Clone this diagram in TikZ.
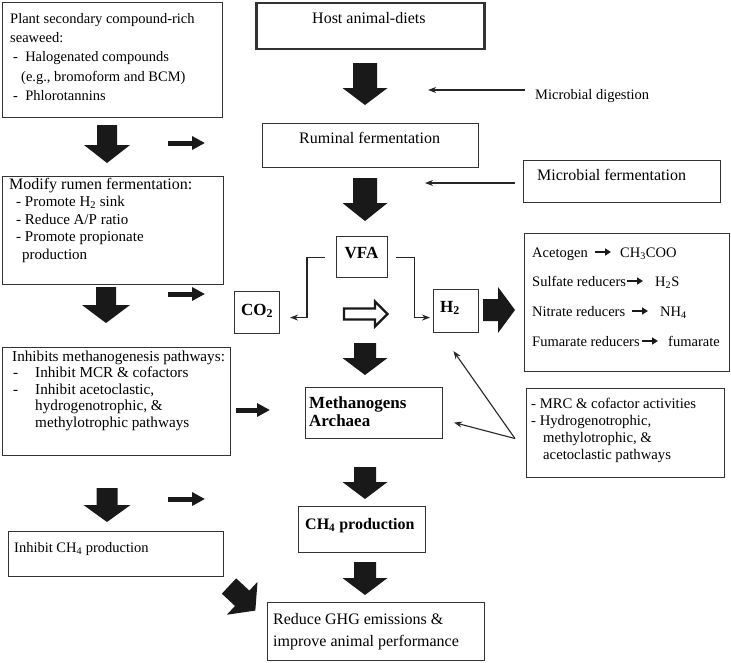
\documentclass[tikz,border=0pt]{standalone}
\usepackage{fontspec}
\setmainfont{Liberation Serif}
\usetikzlibrary{arrows.meta}
\newcommand{\blkarrow}[7]{% tail x, tail y, rotation, length, shaft half, head half, head length
  \begin{scope}[shift={(#1,#2)}, rotate=#3]
    \fill[black!90] (0,-#5) -- ({#4-#7},-#5) -- ({#4-#7},-#6) -- (#4,0) -- ({#4-#7},#6) -- ({#4-#7},#5) -- (0,#5) -- cycle;
  \end{scope}}
\begin{document}
\begin{tikzpicture}[x=1pt,y=-1pt,
  box/.style={draw=black!80, line width=1.1pt, inner sep=0pt, anchor=north west},
  ltxt/.style={anchor=north west, inner sep=0pt, align=left, font=\fontsize{15}{18}\selectfont},
  ctxt/.style={anchor=base west, inner sep=0pt, font=\fontsize{16}{20}\selectfont},
  rtxt/.style={anchor=base west, inner sep=0pt, font=\fontsize{14.5}{17}\selectfont},
  btxt/.style={anchor=base west, inner sep=0pt, font=\fontsize{17}{18}\selectfont\bfseries},
  conn/.style={draw=black!85, line width=1.1pt, -{Stealth[length=8pt,width=6pt]}},
  smallarr/.style={draw=black!90, line width=5pt, -{Triangle[length=13pt,width=13pt]}},
  inarr/.style={draw=black!90, line width=2pt, -{Triangle[length=6pt,width=7pt]}}
]
\useasboundingbox (0,0) rectangle (731,662);

% ---------- boxes ----------
\node[box, minimum width=220pt, minimum height=115pt] (plant) at (2,2) {};
\node[box, line width=2.5pt, minimum width=228pt, minimum height=46pt] (host) at (255,1.5) {};
\node[box, minimum width=216pt, minimum height=44pt] (rum) at (262,123) {};
\node[box, minimum width=197pt, minimum height=42pt] (mferm) at (523,160) {};
\node[box, minimum width=221pt, minimum height=108pt] (modify) at (2,176) {};
\node[box, minimum width=51pt, minimum height=41pt] (vfa) at (336,236) {};
\node[box, minimum width=45pt, minimum height=42pt] (co2) at (234,291) {};
\node[box, minimum width=45pt, minimum height=43pt] (h2) at (433,289) {};
\node[box, minimum width=205pt, minimum height=138pt] (sinks) at (524,233) {};
\node[box, minimum width=228pt, minimum height=108pt] (inhib) at (2,347) {};
\node[box, minimum width=137pt, minimum height=51pt] (meth) at (305,387) {};
\node[box, minimum width=198pt, minimum height=89pt] (mrc) at (526,388) {};
\node[box, minimum width=127pt, minimum height=46pt] (ch4) at (298,506) {};
\node[box, minimum width=215pt, minimum height=45pt] (inhch4) at (8,531) {};
\node[box, minimum width=217pt, minimum height=58pt] (ghg) at (267,602) {};

% ---------- texts ----------
\node[ltxt, font=\fontsize{14.5}{19.3}\selectfont] (plantT) at (10,9.5) {\strut Plant secondary compound-rich\\
seaweed:\\
\hspace*{3pt}- \ Halogenated compounds\\
\hspace*{11pt}(e.g., bromoform and BCM)\\
\hspace*{3pt}- \ Phlorotannins};

\node[ltxt, font=\fontsize{15}{17.5}\selectfont] (modT) at (9,176.8) {\strut{\fontsize{16}{17.5}\selectfont Modify rumen fermentation:}\\
\hspace*{7pt}- Promote H\textsubscript{2} sink\\
\hspace*{7pt}- Reduce A/P ratio\\
\hspace*{7pt}- Promote propionate\\
\hspace*{13pt}production};

\node[ltxt, font=\fontsize{15.2}{16.5}\selectfont] (inhT) at (12,349.5) {\strut Inhibits methanogenesis pathways:\\
\makebox[23pt][l]{\hspace*{1pt}-}Inhibit MCR \& cofactors\\
\makebox[23pt][l]{\hspace*{1pt}-}Inhibit acetoclastic,\\
\hspace*{23pt}hydrogenotrophic, \&\\
\hspace*{23pt}methylotrophic pathways};

\node[ltxt, font=\fontsize{14.7}{17}\selectfont] (mrcT) at (531,396.1) {\strut - MRC \& cofactor activities\\
- Hydrogenotrophic,\\
\hspace*{12pt}methylotrophic, \&\\
\hspace*{12pt}acetoclastic pathways};

\node[ctxt] (hostT) at (312,23) {Host animal-diets};
\node[ctxt] (rumT) at (299,143) {Ruminal fermentation};
\node[rtxt] (mdigT) at (535,99) {Microbial digestion};
\node[rtxt, font=\fontsize{16}{17}\selectfont] (mfermT) at (537,180) {Microbial fermentation};
\node[btxt, anchor=base] (vfaT) at (361.5,258) {VFA};
\node[btxt, anchor=base] (co2T) at (257,315) {CO\textsubscript{2}};
\node[btxt] (h2T) at (440,312) {H\textsubscript{2}};
\node[ltxt, anchor=north west, font=\fontsize{17}{18}\selectfont\bfseries] (methT) at (309,395.4) {\strut Methanogens\\Archaea};
\node[btxt, font=\fontsize{16}{18}\selectfont\bfseries] (ch4T) at (305,529) {CH\textsubscript{4} production};
\node[rtxt] (inhch4T) at (14,552) {Inhibit CH\textsubscript{4} production};
\node[ltxt, font=\fontsize{16}{22}\selectfont] (ghgT) at (273,608.6) {\strut Reduce GHG emissions \&\\improve animal performance};

% right box lines
\node[rtxt] (s1a) at (532,257) {Acetogen};
\node[rtxt] (s1b) at (620,257) {CH\textsubscript{3}COO};
\node[rtxt] (s2a) at (532,286) {Sulfate reducers};
\node[rtxt] (s2b) at (655,286) {H\textsubscript{2}S};
\node[rtxt] (s3a) at (532,316) {Nitrate reducers};
\node[rtxt] (s3b) at (660,316) {NH\textsubscript{4}};
\node[rtxt] (s4a) at (532,346) {Fumarate reducers};
\node[rtxt] (s4b) at (668,346) {fumarate};
\draw[inarr] (595,252) -- (611,252);
\draw[inarr] (627,281) -- (643,281);
\draw[inarr] (632,311) -- (648,311);
\draw[inarr] (642,341) -- (658,341);

% ---------- block arrows ----------
\blkarrow{365}{63}{-90}{42}{12}{22.5}{17}
\blkarrow{365}{178}{-90}{43}{12}{22.5}{18}
\blkarrow{365}{343}{-90}{32}{11}{22.5}{17}
\blkarrow{365}{467}{-90}{32}{11}{22.5}{17}
\blkarrow{365}{562}{-90}{33}{11}{22.5}{17}
\blkarrow{107}{125}{-90}{38}{10}{23}{18}
\blkarrow{106}{287}{-90}{36}{10}{24}{18}
\blkarrow{107}{488}{-90}{34}{10.5}{23.5}{17}
\blkarrow{483}{310}{0}{32}{11}{23}{17}
\blkarrow{229}{586}{-43}{36}{10.5}{22.5}{18}

% hollow arrow
\draw[black!90, line width=2.2pt, fill=white] (344,308.5) -- (375,308.5) -- (375,301.5) -- (387.5,314) -- (375,326.5) -- (375,319.5) -- (344,319.5) -- cycle;

% ---------- small thick arrows ----------
\coordinate (sa1) at (168,143); \coordinate (sb1) at (205,143);
\coordinate (sa2) at (168,294); \coordinate (sb2) at (205,294);
\coordinate (sa3) at (168,499); \coordinate (sb3) at (205,499);
\draw[smallarr] (sa1) -- (sb1);
\draw[smallarr] (sa2) -- (sb2);
\draw[smallarr] (sa3) -- (sb3);
\draw[smallarr] ([xshift=5pt]inhib.east |- 0,410) -- ([xshift=-35pt]meth.west |- 0,410);

% ---------- thin connectors ----------
\draw[conn] ([xshift=-10pt]mdigT.west |- 0,90) -- ([xshift=-51pt]rum.north east |- 0,90);
\draw[conn] ([xshift=-22pt]mfermT.west |- 0,183) -- (425,183);
\draw[conn] ([xshift=-11pt]vfa.west) -- ++(-18,0) |- ([xshift=10pt,yshift=-5pt]co2.east);
\draw[conn] ([xshift=8pt]vfa.east) -- ++(18,0) |- ([xshift=-3pt,yshift=-6.5pt]h2.west);
\coordinate (mrcjoin) at ([xshift=-11pt,yshift=-5.5pt]mrc.west);
\draw[conn] (mrcjoin) -- ([xshift=-2.5pt,yshift=-18pt]h2.south);
\draw[conn] (mrcjoin) -- ([xshift=11pt,yshift=-9.5pt]meth.east);
\end{tikzpicture}
\end{document}
